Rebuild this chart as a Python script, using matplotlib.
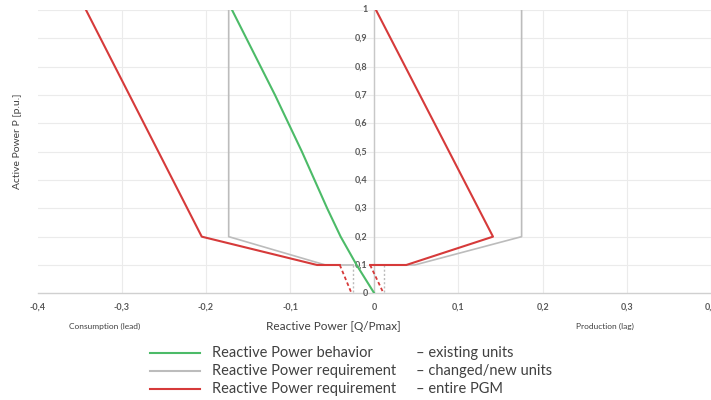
import matplotlib
matplotlib.use('Agg')
import matplotlib.pyplot as plt
from matplotlib.lines import Line2D
import numpy as np

plt.rcParams['font.family'] = ['Lato', 'DejaVu Sans']

# Reactive power behavior - existing units (green)
green_q = [-0.169, -0.152, -0.135, -0.118, -0.102, -0.086, -0.071, -0.056, -0.040, -0.021, 0.0]
green_p = [1.0, 0.9, 0.8, 0.7, 0.6, 0.5, 0.4, 0.3, 0.2, 0.1, 0.0]

# Reactive power requirement - changed/new units (grey)
grey_left_q = [-0.173, -0.173, -0.058, -0.025]
grey_left_p = [1.0, 0.2, 0.1, 0.1]
grey_right_q = [0.175, 0.175, 0.048, 0.011]
grey_right_p = [1.0, 0.2, 0.1, 0.1]
grey_dot_left_q = [-0.025, -0.025]
grey_dot_right_q = [0.011, 0.011]
dot_p = [0.1, 0.0]

# Reactive power requirement - entire PGM (red)
red_left_q = [-0.3425, -0.205, -0.068, -0.041]
red_left_p = [1.0, 0.2, 0.1, 0.1]
red_right_q = [0.002, 0.141, 0.038, -0.005]
red_right_p = [1.0, 0.2, 0.1, 0.1]
red_dash_left_q = [-0.041, -0.027]
red_dash_right_q = [-0.005, 0.011]

x_ticks = [-0.4, -0.3, -0.2, -0.1, 0.0, 0.1, 0.2, 0.3, 0.4]
x_labels = ['-0,4', '-0,3', '-0,2', '-0,1', '0', '0,1', '0,2', '0,3', '0,4']
y_ticks = [0.0, 0.1, 0.2, 0.3, 0.4, 0.5, 0.6, 0.7, 0.8, 0.9, 1.0]
y_labels = ['0', '0,1', '0,2', '0,3', '0,4', '0,5', '0,6', '0,7', '0,8', '0,9', '1']

legend_names = ['Reactive Power behavior', 'Reactive Power requirement', 'Reactive Power requirement']
legend_notes = ['\u2013 existing units', '\u2013 changed/new units', '\u2013 entire PGM']

GREEN = '#4cbb68'
GREY = '#bcbcbc'
RED = '#d63a3a'
TXT = '#595959'

fig = plt.figure(figsize=(7.11, 4.0), dpi=100)
ax = fig.add_axes([0.0529, 0.2667, 0.9471, 0.7083])

ax.set_xlim(-0.4, 0.4)
ax.set_ylim(0, 1)

# grid
for x in x_ticks[1:]:
    ax.axvline(x, color='#ebebeb', lw=0.8, zorder=0)
for y in y_ticks[1:]:
    ax.axhline(y, color='#ebebeb', lw=0.8, zorder=0)
ax.axvline(0, color='#c8c8c8', lw=1.0, zorder=1)

for s in ['top', 'right', 'left']:
    ax.spines[s].set_visible(False)
ax.spines['bottom'].set_color('#d0d0d0')
ax.spines['bottom'].set_linewidth(1.0)

ax.set_xticks(x_ticks)
ax.set_xticklabels(x_labels, fontsize=6.5, fontweight='bold', color=TXT)
ax.tick_params(axis='x', length=0, pad=7)
ax.set_yticks([])

for y, lab in zip(y_ticks, y_labels):
    ax.text(-0.008, y, lab, ha='right', va='center', fontsize=6.5,
            fontweight='bold', color=TXT)

# grey
ax.plot(grey_left_q, grey_left_p, color=GREY, lw=1.2, zorder=2)
ax.plot(grey_right_q, grey_right_p, color=GREY, lw=1.2, zorder=2)
ax.plot(grey_dot_left_q, dot_p, color=GREY, lw=1.0, ls=(0, (1.5, 1.5)), zorder=2)
ax.plot(grey_dot_right_q, dot_p, color=GREY, lw=1.0, ls=(0, (1.5, 1.5)), zorder=2)

# red
ax.plot(red_left_q, red_left_p, color=RED, lw=1.5, zorder=3)
ax.plot(red_right_q, red_right_p, color=RED, lw=1.5, zorder=3)
ax.plot(red_dash_left_q, dot_p, color=RED, lw=1.3, ls=(0, (2, 1.5)), zorder=3)
ax.plot(red_dash_right_q, dot_p, color=RED, lw=1.3, ls=(0, (2, 1.5)), zorder=3)

# green
ax.plot(green_q, green_p, color=GREEN, lw=1.5, zorder=4)

# axis texts
fig.text(18 / 711, 1 - 141 / 400, 'Active Power P [p.u.]', rotation=90,
         ha='center', va='center', fontsize=7.5, color='#404040')
fig.text(333 / 711, 1 - 326 / 400, 'Reactive Power [Q/Pmax]', ha='center',
         va='center', fontsize=8.5, color='#404040')
fig.text(105 / 711, 1 - 326 / 400, 'Consumption (lead)', ha='center',
         va='center', fontsize=6, color='#404040')
fig.text(605 / 711, 1 - 326 / 400, 'Production (lag)', ha='center',
         va='center', fontsize=6, color='#404040')

# legend
colors = [GREEN, GREY, RED]
rows_y = [353, 371, 389]
for c, yy, name, note in zip(colors, rows_y, legend_names, legend_notes):
    fy = 1 - yy / 400
    fig.add_artist(Line2D([150 / 711, 200 / 711], [fy, fy], color=c, lw=1.5,
                          transform=fig.transFigure))
    fig.text(212 / 711, fy, name, ha='left', va='center', fontsize=10.5,
             color='#404040')
    fig.text(416 / 711, fy, note, ha='left', va='center', fontsize=10.5,
             color='#404040')

fig.savefig('out.png', dpi=100)
